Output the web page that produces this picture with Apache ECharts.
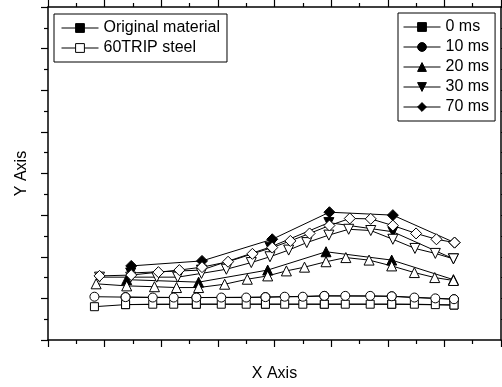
<!DOCTYPE html>
<html>
<head>
<meta charset="utf-8">
<script src="https://cdn.jsdelivr.net/npm/echarts@6/dist/echarts.min.js"></script>
<style>
  html, body { margin: 0; padding: 0; background: #fff; }
  #chart { width: 502px; height: 387px; }
</style>
</head>
<body>
<div id="chart"></div>
<script>
// x positions of the 60TRIP steel points (each marker series sits a bit shifted)
var xSqCirc = [8.2, 13.7, 18.5, 22.2, 26.2, 30.6, 35.0, 38.4, 41.8, 45.0, 48.8, 52.5, 56.9, 60.7, 64.7, 68.4, 71.7];
var xTri    = [8.5, 13.9, 18.8, 22.7, 26.6, 31.2, 35.2, 38.8, 42.1, 45.3, 49.1, 52.6, 56.7, 60.7, 64.7, 68.3, 71.6];
var xDown   = [9.1, 14.6, 19.2, 22.9, 27.1, 31.5, 35.9, 39.2, 42.5, 45.7, 49.6, 53.1, 57.0, 60.9, 64.8, 68.4, 71.6];
var xDia    = [9.1, 14.7, 19.5, 23.2, 27.2, 31.8, 36.1, 39.6, 42.8, 46.2, 49.7, 53.3, 57.0, 60.9, 65.0, 68.6, 71.8];

// 60TRIP steel (open markers)
var trip0  = [8.0, 8.5, 8.6, 8.6, 8.6, 8.6, 8.6, 8.6, 8.6, 8.6, 8.6, 8.6, 8.6, 8.6, 8.6, 8.5, 8.4];
var trip10 = [10.4, 10.3, 10.2, 10.2, 10.2, 10.2, 10.2, 10.3, 10.4, 10.4, 10.6, 10.6, 10.6, 10.5, 10.2, 10.0, 9.8];
var trip20 = [13.5, 13.0, 12.8, 12.6, 12.6, 13.4, 14.6, 15.4, 16.6, 17.5, 18.8, 19.8, 19.2, 17.8, 16.2, 15.0, 14.3];
var trip30 = [15.1, 15.1, 15.1, 15.1, 16.0, 17.0, 18.6, 20.0, 21.6, 23.4, 25.2, 26.6, 26.3, 24.2, 22.0, 20.8, 19.5];
var trip70 = [15.4, 15.6, 16.3, 16.8, 17.5, 18.8, 20.7, 22.2, 23.8, 25.6, 27.5, 29.2, 29.1, 27.5, 25.6, 24.2, 23.4];

// original material (filled markers)
var xOrigSq   = [13.7, 26.2, 38.4, 48.8, 60.7, 71.7];
var xOrigTri  = [13.9, 26.6, 38.8, 49.1, 60.7, 71.6];
var xOrigDown = [14.6, 27.1, 39.2, 49.6, 60.9, 71.6];
var xOrigDia  = [14.7, 27.2, 39.6, 49.7, 60.9, 71.8];
var orig0  = [8.5, 8.6, 8.6, 8.6, 8.6, 8.4];
var orig10 = [10.3, 10.2, 10.3, 10.6, 10.5, 9.8];
var orig20 = [14.5, 13.9, 16.8, 21.2, 19.2, 14.5];
var orig30 = [16.1, 16.8, 22.3, 28.2, 26.0, 19.5];
var orig70 = [17.8, 19.0, 24.2, 30.7, 30.0, 23.4];

var msNames = ['0 ms', '10 ms', '20 ms', '30 ms', '70 ms'];
var matNames = ['Original material', '60TRIP steel'];

var FONT = "'Liberation Sans', Arial, sans-serif";

function pairs(xs, ys) {
    return xs.map(function (x, i) { return [x, ys[i]]; });
}

function mk(name, xs, ys, symbol, size, fill, rotate) {
    return {
        type: 'line',
        name: name,
        data: xs ? pairs(xs, ys) : [],
        symbol: symbol,
        symbolSize: size,
        symbolRotate: rotate || 0,
        showSymbol: true,
        silent: true,
        lineStyle: { color: '#000', width: 1 },
        itemStyle: { color: fill, borderColor: '#000', borderWidth: 1 },
        emphasis: { disabled: true }
    };
}

var chart = echarts.init(document.getElementById('chart'));

var axisCommon = {
    type: 'value',
    min: 0,
    max: 80,
    interval: 10,
    axisLine: { show: true, onZero: false, lineStyle: { color: '#000', width: 1.5 } },
    axisTick: { show: true, inside: false, length: 7, lineStyle: { color: '#000', width: 1.2 } },
    minorTick: { show: true, splitNumber: 2, length: 4, lineStyle: { color: '#000', width: 1.2 } },
    axisLabel: { show: false },
    splitLine: { show: false }
};

function axis(extra) {
    return Object.assign({}, axisCommon, extra);
}

var nameStyle = { fontSize: 16, fontFamily: FONT, color: '#000' };

var legendCommon = {
    orient: 'vertical',
    itemWidth: 37,
    itemHeight: 11,
    itemGap: 4,
    selectedMode: false,
    borderColor: '#000',
    borderWidth: 1,
    borderRadius: 0,
    backgroundColor: '#fff',
    textStyle: { fontSize: 16, fontFamily: FONT, color: '#000' },
    itemStyle: { borderWidth: 1 },
    lineStyle: { width: 1 }
};

var option = {
    animation: false,
    backgroundColor: '#fff',
    grid: { left: 48, right: 1, top: 7, bottom: 47, outerBoundsMode: 'none' },
    xAxis: [
        axis({ position: 'bottom', name: 'X Axis', nameLocation: 'middle', nameGap: 26, nameTextStyle: nameStyle }),
        axis({ position: 'top' })
    ],
    yAxis: [
        axis({ position: 'left', name: 'Y Axis', nameLocation: 'middle', nameGap: 18, nameTextStyle: nameStyle }),
        axis({ position: 'right' })
    ],
    legend: [
        Object.assign({}, legendCommon, { left: 54, top: 14, padding: [6, 7, 6, 7], data: matNames }),
        Object.assign({}, legendCommon, { left: 398, top: 13, padding: [6, 6, 6, 5], data: msNames })
    ],
    series: [
        // legend-only entries
        mk(matNames[0], null, null, 'rect', 8, '#000'),
        mk(matNames[1], null, null, 'rect', 8, '#fff'),
        // original material
        mk(msNames[0], xOrigSq, orig0, 'rect', 8, '#000'),
        mk(msNames[1], xOrigSq, orig10, 'circle', 9, '#000'),
        mk(msNames[2], xOrigTri, orig20, 'triangle', 10, '#000'),
        mk(msNames[3], xOrigDown, orig30, 'triangle', 10, '#000', 180),
        mk(msNames[4], xOrigDia, orig70, 'diamond', 11, '#000'),
        // 60TRIP steel
        mk('TRIP 0 ms', xSqCirc, trip0, 'rect', 8, '#fff'),
        mk('TRIP 10 ms', xSqCirc, trip10, 'circle', 9, '#fff'),
        mk('TRIP 20 ms', xTri, trip20, 'triangle', 10, '#fff'),
        mk('TRIP 30 ms', xDown, trip30, 'triangle', 10, '#fff', 180),
        mk('TRIP 70 ms', xDia, trip70, 'diamond', 11, '#fff')
    ]
};

chart.setOption(option);
</script>
</body>
</html>
